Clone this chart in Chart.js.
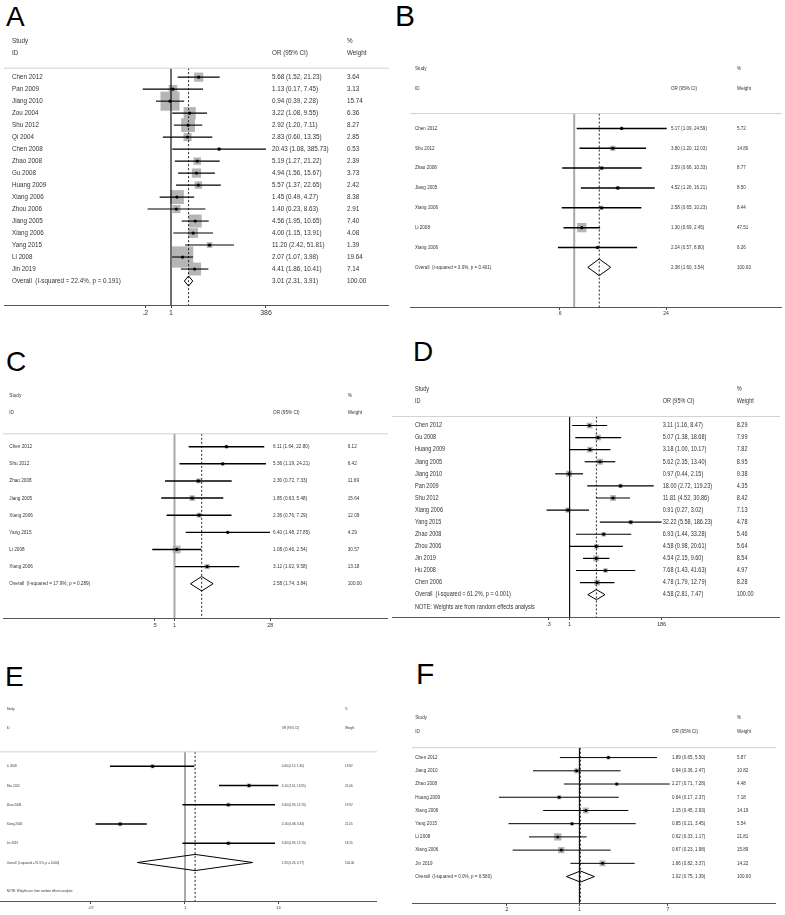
<!DOCTYPE html>
<html>
<head>
<meta charset="utf-8">
<title>Forest plots A-F</title>
<script src="https://cdn.jsdelivr.net/npm/chart.js@4.4.1/dist/chart.umd.min.js"></script>
<style>
  body { margin: 0; background: #fff; }
  #fig { position: relative; width: 785px; height: 915px; overflow: hidden; background: #fff; }
  #fig canvas { position: absolute; }
  .tag { position: absolute; font-family: "Liberation Sans", Arial, sans-serif; font-size: 28px; line-height: 28px; color: #000; }
</style>
</head>
<body>
<div id="fig">
  <div class="tag" style="left:6px;top:3px">A</div>
  <div class="tag" style="left:395px;top:1px;font-size:30px;line-height:30px">B</div>
  <div class="tag" style="left:6px;top:348px">C</div>
  <div class="tag" style="left:413px;top:338px">D</div>
  <div class="tag" style="left:5px;top:663px">E</div>
  <div class="tag" style="left:416px;top:659px;font-size:30px;line-height:30px">F</div>
</div>
<script>
// ---- A ----
const studiesA = ['Chen 2012', 'Pan 2009', 'Jiang 2010', 'Zou 2004', 'Shu 2012', 'Qi 2004', 'Chen 2008', 'Zhao 2008', 'Gu 2008',
  'Huang 2009', 'Xiang 2006', 'Zhou 2006', 'Jiang 2005', 'Xiang 2006', 'Yang 2015', 'Li 2008', 'Jin 2019'];
const orA = [5.68, 1.13, 0.94, 3.22, 2.92, 2.83, 20.43, 5.19, 4.94, 5.57, 1.45, 1.40, 4.56, 4.00, 11.20, 2.07, 4.41];
const lowA = [1.52, 0.17, 0.39, 1.08, 1.20, 0.60, 1.08, 1.27, 1.56, 1.37, 0.49, 0.23, 1.95, 1.15, 2.42, 1.07, 1.86];
const highA = [21.23, 7.45, 2.28, 9.55, 7.11, 13.35, 385.73, 21.22, 15.67, 22.65, 4.27, 8.63, 10.65, 13.91, 51.81, 3.98, 10.41];
const weightA = [3.64, 3.13, 15.74, 6.36, 8.27, 2.85, 0.53, 2.39, 3.73, 2.42, 8.38, 2.91, 7.40, 4.08, 1.39, 19.64, 7.14];
const overallA = [3.01, 2.31, 3.91];
const hetA = 'I-squared = 22.4%, p = 0.191';
const ticksA = [0.2, 1, 386];

// ---- B ----
const studiesB = ['Chen 2012', 'Shu 2012', 'Zhao 2008', 'Jiang 2005', 'Xiang 2006', 'Li 2008', 'Xiang 2006'];
const orB = [5.17, 3.80, 2.59, 4.52, 2.58, 1.30, 2.24];
const lowB = [1.09, 1.20, 0.66, 1.26, 0.65, 0.69, 0.57];
const highB = [24.59, 12.03, 10.33, 16.21, 10.23, 2.45, 8.80];
const weightB = [5.72, 14.80, 8.77, 8.50, 8.44, 47.51, 6.26];
const overallB = [2.38, 1.60, 3.54];
const hetB = 'I-squared = 3.0%, p = 0.401';
const ticksB = [0.6, 24];

// ---- C ----
const studiesC = ['Chen 2012', 'Shu 2012', 'Zhao 2008', 'Jiang 2005', 'Xiang 2006', 'Yang 2015', 'Li 2008', 'Xiang 2006'];
const orC = [6.11, 5.36, 2.30, 1.85, 2.36, 6.40, 1.08, 3.12];
const lowC = [1.64, 1.19, 0.72, 0.63, 0.76, 1.48, 0.46, 1.02];
const highC = [22.80, 24.21, 7.33, 5.48, 7.29, 27.85, 2.54, 9.58];
const weightC = [6.12, 6.42, 11.69, 15.64, 12.09, 4.29, 30.57, 13.18];
const overallC = [2.58, 1.74, 3.84];
const hetC = 'I-squared = 17.9%, p = 0.289';
const ticksC = [0.5, 1, 28];

// ---- D ----
const studiesD = ['Chen 2012', 'Gu 2008', 'Huang 2009', 'Jiang 2005', 'Jiang 2010', 'Pan 2009', 'Shu 2012', 'Xiang 2006',
  'Yang 2015', 'Zhao 2008', 'Zhou 2006', 'Jin 2019', 'Hu 2008', 'Chen 2006'];
const orD = [3.11, 5.07, 3.18, 5.62, 0.97, 18.00, 11.81, 0.91, 32.22, 6.93, 4.58, 4.54, 7.68, 4.78];
const lowD = [1.16, 1.38, 1.00, 2.35, 0.44, 2.72, 4.52, 0.27, 5.58, 1.44, 0.98, 2.15, 1.43, 1.79];
const highD = [8.47, 18.68, 10.17, 13.40, 2.15, 119.23, 30.86, 3.02, 186.23, 33.28, 20.61, 9.60, 41.63, 12.79];
const weightD = [8.29, 7.99, 7.82, 8.95, 9.38, 4.35, 8.42, 7.13, 4.78, 5.46, 5.64, 8.54, 4.97, 8.28];
const overallD = [4.58, 2.81, 7.47];
const hetD = 'I-squared = 61.2%, p = 0.001';
const ticksD = [0.3, 1, 186];

// ---- E ----
const studiesE = ['Li 2008', 'Shu 2012', 'Zhao 2008', 'Xiang 2006', 'Jin 2019'];
const orE = [0.40, 6.10, 3.40, 0.16, 3.40];
const lowE = [0.12, 2.61, 0.93, 0.08, 0.93];
const highE = [1.30, 13.95, 12.70, 0.34, 12.70];
const weightE = [19.82, 21.06, 19.92, 21.05, 18.15];
const overallE = [1.33, 0.26, 6.77];
const hetE = 'I-squared = 91.5%, p = 0.000';
const ticksE = [0.07, 1, 14];

// ---- F ----
const studiesF = ['Chen 2012', 'Jiang 2010', 'Zhao 2008', 'Huang 2009', 'Xiang 2006', 'Yang 2015', 'Li 2008', 'Xiang 2006', 'Jin 2019'];
const orF = [1.89, 0.94, 2.27, 0.64, 1.15, 0.85, 0.62, 0.67, 1.66];
const lowF = [0.65, 0.36, 0.71, 0.17, 0.45, 0.21, 0.33, 0.23, 0.82];
const highF = [5.50, 2.47, 7.28, 2.37, 2.93, 3.45, 1.17, 1.98, 3.37];
const weightF = [5.87, 10.82, 4.48, 7.18, 14.19, 5.54, 21.81, 15.89, 14.22];
const overallF = [1.02, 0.75, 1.39];
const hetF = 'I-squared = 0.0%, p = 0.580';
const ticksF = [0.2, 1, 7];

const NOTE = 'NOTE: Weights are from random effects analysis';
const FONT = '"Liberation Sans", Arial, sans-serif';
const Y_TOP = -3.6;   // header rows sit above study 0
const TICK_H = 16;

// layout per panel (page pixels): axis span, where OR=1 falls, px per log unit, first row y, row gap
const panels = [
  { studies: studiesA, or: orA, low: lowA, high: highA, weight: weightA, overall: overallA, het: hetA, ticks: ticksA,
    axisFrom: 4, axisTo: 389, nullX: 171, unit: 15.95, row0: 77, gap: 12, axisRow: 19,
    nameX: 12, orX: 272, wX: 347, font: 7.3, squeeze: 0.86, tickFont: 7, box: 4.8, dot: 1.6, ciW: 1.1, nullColor: '#111', nullW: 1.2 },
  { studies: studiesB, or: orB, low: lowB, high: highB, weight: weightB, overall: overallB, het: hetB, ticks: ticksB,
    axisFrom: 410, axisTo: 782, nullX: 574.2, unit: 28.9, row0: 128.3, gap: 19.86, axisRow: 9,
    nameX: 415, orX: 671, wX: 737, font: 5, squeeze: 0.91, tickFont: 5, box: 1.35, dot: 1.6, ciW: 1.5, nullColor: '#aaa', nullW: 2 },
  { studies: studiesC, or: orC, low: lowC, high: highC, weight: weightC, overall: overallC, het: hetC, ticks: ticksC,
    axisFrom: 3, axisTo: 388, nullX: 174.5, unit: 28.7, row0: 446.7, gap: 17.1, axisRow: 10,
    nameX: 9.3, orX: 273, wX: 347.7, font: 5.3, squeeze: 0.88, tickFont: 5.3, box: 1.4, dot: 1.6, ciW: 1.4, nullColor: '#aaa', nullW: 2 },
  { studies: studiesD, or: orD, low: lowD, high: highD, weight: weightD, overall: overallD, het: hetD, ticks: ticksD,
    axisFrom: 392, axisTo: 780, nullX: 569.6, unit: 17.6, row0: 425.3, gap: 12.07, axisRow: 15.85, noteRow: 15,
    nameX: 415, orX: 662.7, wX: 736.7, font: 6.5, squeeze: 0.85, tickFont: 5.5, box: 2.0, dot: 1.6, ciW: 1.2, nullColor: '#111', nullW: 1.2 },
  { studies: studiesE, or: orE, low: lowE, high: highE, weight: weightE, overall: overallE, het: hetE, ticks: ticksE,
    axisFrom: 0, axisTo: 377, nullX: 185, unit: 35.4, row0: 765.7, gap: 19.2, axisRow: 7, noteRow: 6.5,
    nameX: 6.7, orX: 281.7, wX: 345, font: 3.8, squeeze: 0.8, tickFont: 4, box: 0.9, dot: 1.6, ciW: 1.5, nullColor: '#aaa', nullW: 2 },
  { studies: studiesF, or: orF, low: lowF, high: highF, weight: weightF, overall: overallF, het: hetF, ticks: ticksF,
    axisFrom: 411.7, axisTo: 776, nullX: 579.3, unit: 45.5, row0: 757.3, gap: 13.22, axisRow: 11,
    nameX: 415, orX: 671.7, wX: 736.7, font: 5, squeeze: 0.91, tickFont: 5, box: 1.56, dot: 1.5, ciW: 1, nullColor: '#111', nullW: 1.2 }
];

function fmt(v) { return v.toFixed(2); }
function ciText(e, lo, hi) { return fmt(e) + ' (' + fmt(lo) + ', ' + fmt(hi) + ')'; }
function tickText(v) { return String(v).replace(/^0\./, '.'); }

function textColumns(p) {
  return {
    id: 'textColumns',
    afterDraw(chart) {
      const {ctx, chartArea, scales: {y}} = chart;
      const n = p.studies.length;
      // Stata's text is narrow, so squeeze each string horizontally
      const put = (s, x, row) => {
        ctx.save();
        ctx.translate(x - p.axisFrom, y.getPixelForValue(row));
        ctx.scale(p.squeeze, 1);
        ctx.fillText(s, 0, 0);
        ctx.restore();
      };
      ctx.save();
      // rule under the header
      ctx.strokeStyle = '#d0d0d0';
      ctx.lineWidth = 1;
      ctx.beginPath();
      ctx.moveTo(chartArea.left, y.getPixelForValue(-0.75));
      ctx.lineTo(chartArea.right, y.getPixelForValue(-0.75));
      ctx.stroke();

      ctx.fillStyle = '#333';
      ctx.font = p.font + 'px ' + FONT;
      ctx.textAlign = 'left';
      ctx.textBaseline = 'middle';
      put('Study', p.nameX, -3);
      put('ID', p.nameX, -2);
      put('OR (95% CI)', p.orX, -2);
      put('%', p.wX, -3);
      put('Weight', p.wX, -2);
      p.studies.forEach((s, i) => {
        put(s, p.nameX, i);
        put(ciText(p.or[i], p.low[i], p.high[i]), p.orX, i);
        put(fmt(p.weight[i]), p.wX, i);
      });
      put('Overall  (' + p.het + ')', p.nameX, n);
      put(ciText(p.overall[0], p.overall[1], p.overall[2]), p.orX, n);
      put('100.00', p.wX, n);
      if (p.noteRow !== undefined) put(NOTE, p.nameX, p.noteRow);
      ctx.restore();
    }
  };
}

function forestPlot(p) {
  const n = p.studies.length;
  const width = Math.round(p.axisTo - p.axisFrom);
  const height = Math.round((p.axisRow - Y_TOP) * p.gap + TICK_H);
  const cv = document.createElement('canvas');
  cv.width = width;
  cv.height = height;
  cv.style.left = p.axisFrom + 'px';
  cv.style.top = (p.row0 + Y_TOP * p.gap) + 'px';
  cv.style.width = width + 'px';
  cv.style.height = height + 'px';
  document.getElementById('fig').appendChild(cv);

  const xMin = Math.exp(-(p.nullX - p.axisFrom) / p.unit);
  const xMax = Math.exp((p.axisTo - p.nullX) / p.unit);
  const [est, oLo, oHi] = p.overall;
  const h = 0.42;

  const lineSet = (data, color, w, dash) => ({
    data, showLine: true, borderColor: color, borderWidth: w, borderDash: dash || [],
    pointRadius: 0, fill: false, tension: 0
  });

  const datasets = [];
  // point estimates on top
  datasets.push({
    data: p.or.map((v, i) => ({x: v, y: i})),
    pointStyle: 'circle', pointRadius: p.dot, backgroundColor: '#000', borderWidth: 0
  });
  // confidence intervals
  p.low.forEach((lo, i) => {
    datasets.push(lineSet([{x: lo, y: i}, {x: p.high[i], y: i}], '#000', p.ciW));
  });
  // pooled diamond
  datasets.push(lineSet([{x: oLo, y: n}, {x: est, y: n - h}, {x: oHi, y: n}, {x: est, y: n + h}, {x: oLo, y: n}], '#000', 1));
  // overall estimate (dashed) and null line
  datasets.push(lineSet([{x: est, y: -0.75}, {x: est, y: p.axisRow}], '#222', 1, [2, 2]));
  datasets.push(lineSet([{x: 1, y: -0.75}, {x: 1, y: p.axisRow}], p.nullColor, p.nullW));
  // weight boxes underneath
  datasets.push({
    data: p.or.map((v, i) => ({x: v, y: i})),
    pointStyle: 'rect',
    pointRadius: p.weight.map(w => p.box * Math.sqrt(w) / Math.SQRT2),
    backgroundColor: '#b5b5b5', borderWidth: 0
  });

  new Chart(cv, {
    type: 'scatter',
    data: {datasets},
    options: {
      responsive: false,
      animation: false,
      events: [],
      layout: {padding: 0, autoPadding: false},
      plugins: {legend: {display: false}, tooltip: {enabled: false}},
      scales: {
        x: {
          type: 'logarithmic',
          min: xMin,
          max: xMax,
          bounds: 'data',
          afterBuildTicks: (scale) => { scale.ticks = p.ticks.map(v => ({value: v})); },
          afterFit: (scale) => { scale.height = TICK_H; },
          grid: {display: true, drawOnChartArea: false, drawTicks: true, tickLength: 3, color: '#444'},
          border: {display: true, color: '#555', width: 1},
          ticks: {
            autoSkip: false, maxRotation: 0, minRotation: 0, padding: 1,
            color: '#333', font: {family: FONT, size: p.tickFont},
            callback: (v) => tickText(v)
          }
        },
        y: {
          type: 'linear', reverse: true, min: Y_TOP, max: p.axisRow, display: false
        }
      }
    },
    plugins: [textColumns(p)]
  });
}

panels.forEach(forestPlot);
</script>
</body>
</html>
